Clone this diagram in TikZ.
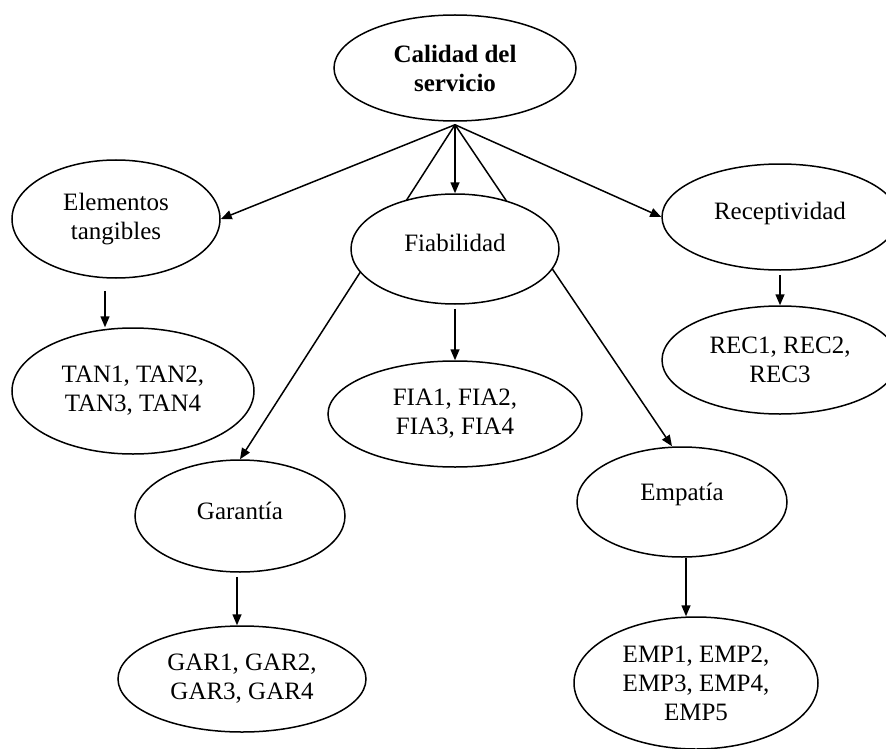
\documentclass[tikz,border=0pt]{standalone}
\usepackage{fontspec}
\setmainfont{Liberation Serif}
\usetikzlibrary{shapes.geometric,arrows.meta,backgrounds}

\begin{document}
\begin{tikzpicture}[x=1pt, y=-1pt, line width=1.5pt,
		elip/.style={draw, ellipse, fill=white, inner sep=0pt, align=center, font=\fontsize{25}{29}\selectfont},
		arr/.style={line width=1.5pt, -{Triangle[length=11pt,width=9pt]}}]

	\clip (0,0) rectangle (886,749);

	% top node
	\node[elip, minimum width=242pt, minimum height=106pt] (cal) at (455,68) {\textbf{Calidad del}\\\textbf{servicio}};
	\coordinate (hub) at ([yshift=-3pt]cal.south);

	% dimensions
	\node[elip, minimum width=208pt, minimum height=118pt] (elem) at (116,219) {Elementos\\tangibles};
	\node[elip, minimum width=208pt, minimum height=110pt, text depth=12pt] (fiab) at (455,249) {Fiabilidad};
	\node[elip, minimum width=236pt, minimum height=106pt, text depth=12pt] (recep) at (780,217) {Receptividad};
	\node[elip, minimum width=210pt, minimum height=112pt, text depth=10pt] (garan) at (240,516) {Garantía};
	\node[elip, minimum width=210pt, minimum height=110pt, text depth=20pt] (empat) at (682,502) {Empatía};

	% items
	\node[elip, minimum width=242pt, minimum height=126pt] (tan) at (133,391) {TAN1, TAN2,\\TAN3, TAN4};
	\node[elip, minimum width=254pt, minimum height=106pt] (fia) at (455,414) {FIA1, FIA2,\\FIA3, FIA4};
	\node[elip, minimum width=236pt, minimum height=108pt] (rec) at (780,360) {REC1, REC2,\\REC3};
	\node[elip, minimum width=248pt, minimum height=106pt] (gar) at (242,679) {GAR1, GAR2,\\GAR3, GAR4};
	\node[elip, minimum width=244pt, minimum height=132pt] (emp) at (696,683) {EMP1, EMP2,\\EMP3, EMP4,\\EMP5};

	\begin{scope}[on background layer]
		\draw[arr] (hub) -- (elem.east);
		\draw[arr] (hub) -- (fiab.north);
		\draw[arr] (hub) -- (recep.west);
		\draw[arr] (hub) -- (garan.north);
		\draw[arr] (hub) -- ([xshift=-10pt]empat.north);
	\end{scope}

	\draw[arr] ([xshift=-11pt,yshift=-12pt]elem.south) -- ([xshift=-28pt]tan.north);
	\draw[arr] ([yshift=-4pt]fiab.south) -- (fia.north);
	\draw[arr] ([yshift=-4pt]recep.south) -- (rec.north);
	\draw[arr] ([xshift=-3pt,yshift=-4pt]garan.south) -- ([xshift=-5pt]gar.north);
	\draw[arr] ([xshift=4pt]empat.south) -- ([xshift=-10pt]emp.north);

\end{tikzpicture}
\end{document}
